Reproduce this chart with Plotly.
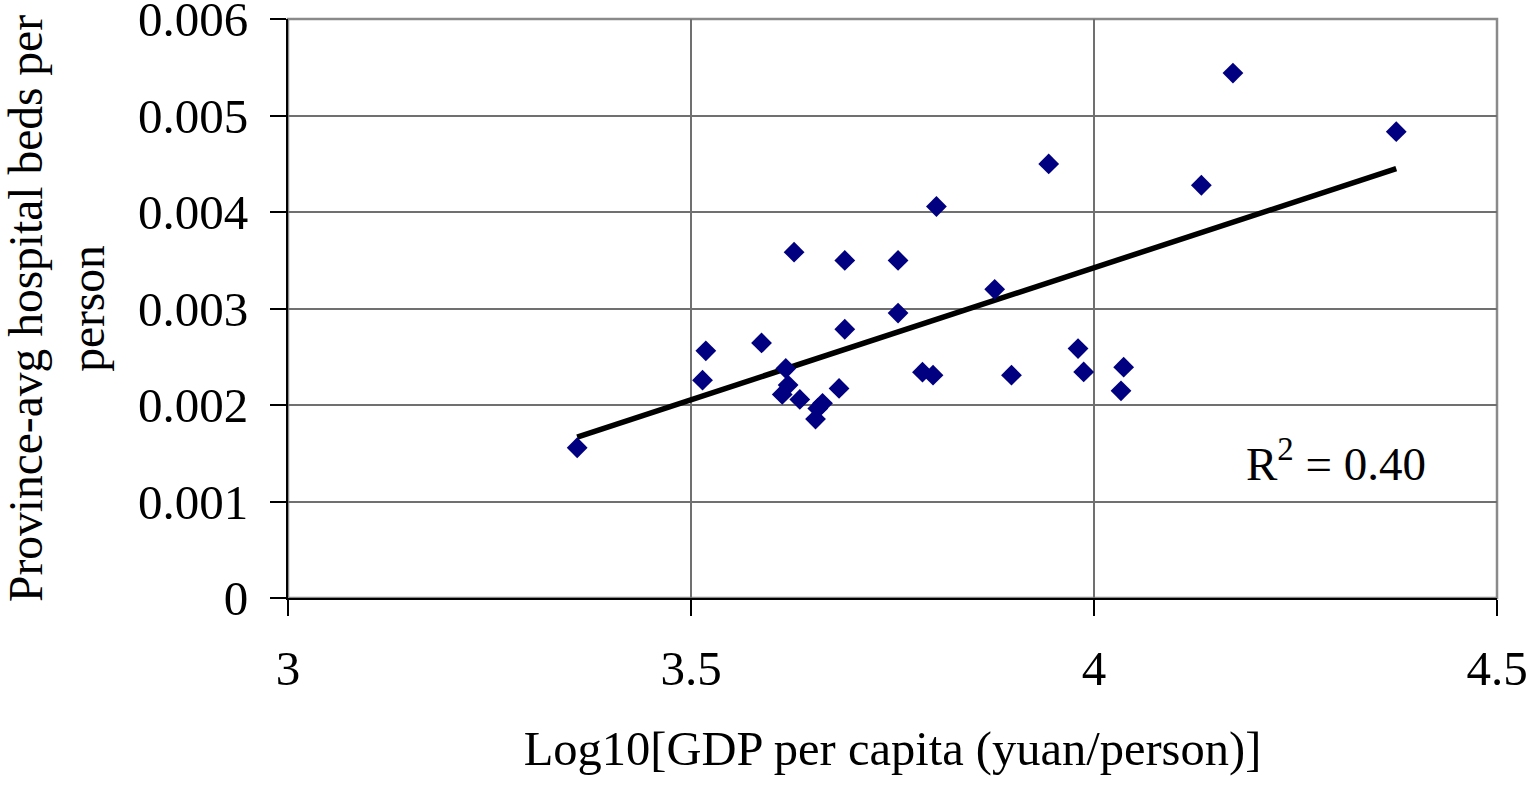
import numpy as np
import plotly.graph_objects as go

# Log10 GDP per capita (x) and hospital beds per person (y)
log_gdp = [3.3588, 3.5143, 3.5184, 3.5875, 3.6176, 3.6132, 3.6205, 3.6279, 3.6350, 3.6545,
           3.6573, 3.6632, 3.6837, 3.6908, 3.6908, 3.7569, 3.7569, 3.7872, 3.8003, 3.8045,
           3.8768, 3.8976, 3.9438, 3.9802, 3.9872, 4.0335, 4.0368, 4.1332, 4.1724, 4.3750]
beds = [0.001557, 0.002257, 0.002561, 0.002643, 0.002378, 0.002110, 0.002206, 0.003584, 0.002058, 0.001854,
        0.001965, 0.002017, 0.002172, 0.003498, 0.002785, 0.003498, 0.002953, 0.002340, 0.002309, 0.004057,
        0.003199, 0.002309, 0.004498, 0.002585, 0.002343, 0.002147, 0.002392, 0.004277, 0.005440, 0.004832]

x_ticks = [3, 3.5, 4, 4.5]
x_tick_labels = ["3", "3.5", "4", "4.5"]
y_ticks = [0, 0.001, 0.002, 0.003, 0.004, 0.005, 0.006]
y_tick_labels = ["0", "0.001", "0.002", "0.003", "0.004", "0.005", "0.006"]
r2_text = "R<sup>2</sup> = 0.40"

xa = np.array(log_gdp)
ya = np.array(beds)
slope, intercept = np.polyfit(xa, ya, 1)
trend_x = [xa.min(), xa.max()]
trend_y = [slope * v + intercept for v in trend_x]

FONT = "Liberation Serif, Times New Roman, serif"

fig = go.Figure()
fig.add_trace(go.Scatter(x=trend_x, y=trend_y, mode="lines",
                         line=dict(color="black", width=5.5), showlegend=False,
                         hoverinfo="skip", cliponaxis=False))
fig.add_trace(go.Scatter(x=log_gdp, y=beds, mode="markers",
                         marker=dict(symbol="diamond", size=16, color="#000080",
                                     line=dict(width=0)),
                         showlegend=False))

fig.add_annotation(x=4.3, y=0.00143, xref="x", yref="y", text=r2_text, showarrow=False,
                   font=dict(family=FONT, size=47, color="black"))

# plot-area border (gray), like the reference frame
fig.add_shape(type="rect", xref="paper", yref="paper", x0=0, x1=1, y0=0, y1=1,
              line=dict(color="#8a8a8a", width=2.5), layer="below")

fig.update_layout(
    width=1532, height=785,
    margin=dict(l=288, r=35, t=19, b=187),
    paper_bgcolor="white", plot_bgcolor="white",
    font=dict(family=FONT, size=49, color="black"),
    xaxis=dict(range=[3, 4.5], tickvals=x_ticks, ticktext=x_tick_labels,
               automargin=False, ticklabeloverflow="allow",
               showgrid=True, gridcolor="#707070", gridwidth=1.5,
               showline=True, linecolor="black", linewidth=2,
               ticks="outside", ticklen=16, tickwidth=2, tickcolor="black",
               ticklabelstandoff=10, zeroline=False,
               title=dict(text="Log10[GDP per capita (yuan/person)]",
                          font=dict(family=FONT, size=48.5), standoff=36)),
    yaxis=dict(range=[0, 0.006], tickvals=y_ticks, ticktext=y_tick_labels,
               automargin=False, ticklabeloverflow="allow",
               showgrid=True, gridcolor="#707070", gridwidth=1.5,
               showline=True, linecolor="black", linewidth=2,
               ticks="outside", ticklen=16, tickwidth=2, tickcolor="black",
               ticklabelstandoff=12, zeroline=False,
               title=dict(text="Province-avg hospital beds per<br>person",
                          font=dict(family=FONT, size=47.5), standoff=22)),
)

fig.write_html("out.html", config={"displayModeBar": False},
               post_script="document.body.style.margin='0';")
